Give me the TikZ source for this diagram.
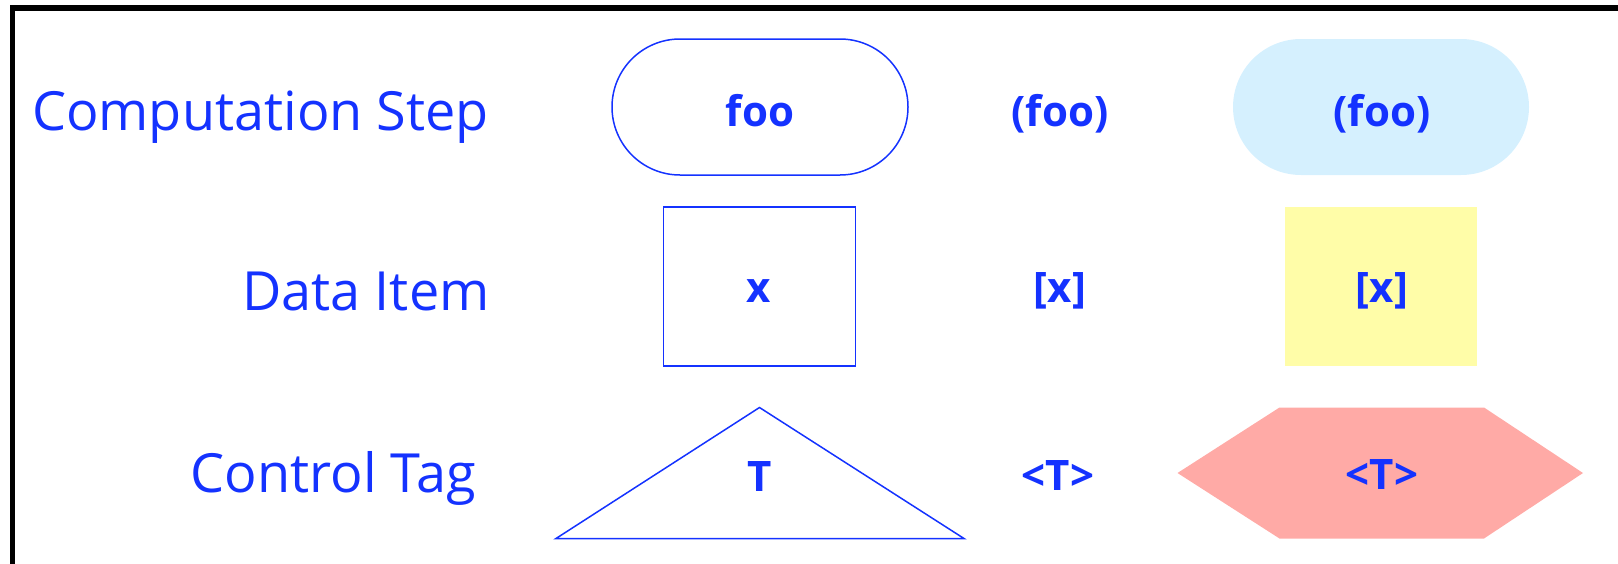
\documentclass[tikz,border=0pt]{standalone}
\usepackage{fontspec}
\setmainfont{Open Sans}
\definecolor{txtblue}{RGB}{20,50,255}
\definecolor{stepfill}{RGB}{213,240,254}
\definecolor{datafill}{RGB}{255,253,168}
\definecolor{tagfill}{RGB}{255,170,166}
\begin{document}
\begin{tikzpicture}[x=1pt,y=-1pt,
  lbl/.style={text=txtblue, font=\fontsize{54}{60}\selectfont, inner sep=0pt, anchor=base},
  sym/.style={text=txtblue, font=\fontsize{42}{48}\selectfont\bfseries, inner sep=0pt, anchor=base},
  outl/.style={draw=txtblue, line width=1.5pt},
  stadium/.style={rectangle, rounded corners=68pt, minimum height=136pt, minimum width=296pt, inner sep=0pt},
  boxshape/.style={rectangle, minimum height=159pt, minimum width=192pt, inner sep=0pt}]
\useasboundingbox (0,0) rectangle (1618,563);
\draw[line width=5.5pt, line join=miter] (12.5,575) -- (12.5,8) -- (1630,8);
% labels
\node[lbl] (lstep) at (260.5,130) {Computation Step};
\node[lbl] (ldata) at (366,310) {Data Item};
\node[lbl] (ltag) at (333.5,492) {Control Tag};
% row 1
\node[stadium, outl] (step1) at (760,107) {};
\node[stadium, fill=stepfill] (step2) at (1381,107) {};
\node[sym] (tfoo) at (760,126) {foo};
\node[sym] (tfoo2) at (1060,126) {(foo)};
\node[sym] (tfoo3) at (1382,126) {(foo)};
% row 2
\node[boxshape, outl] (data1) at (759.5,286.5) {};
\node[boxshape, fill=datafill] (data2) at (1381,286.5) {};
\node[sym] (tx) at (759,302) {x};
\node[sym] (tx2) at (1060,302) {[x]};
\node[sym] (tx3) at (1382,302) {[x]};
% row 3
\coordinate (triA) at (759.5,407.5);
\coordinate (triL) at (556,538.5);
\coordinate (triR) at (964,538.5);
\draw[outl, line join=miter] (triA) -- (triR) -- (triL) -- cycle;
\fill[tagfill] (1177.5,473) -- (1279.5,407.5) -- (1484,407.5) -- (1583,473) -- (1484,538.5) -- (1279.5,538.5) -- cycle;
\node[sym] (tt) at (760,491) {T};
\node[sym] (tt2) at (1058,490) {<T>};
\node[sym] (tt3) at (1382,489) {<T>};
\end{tikzpicture}
\end{document}
